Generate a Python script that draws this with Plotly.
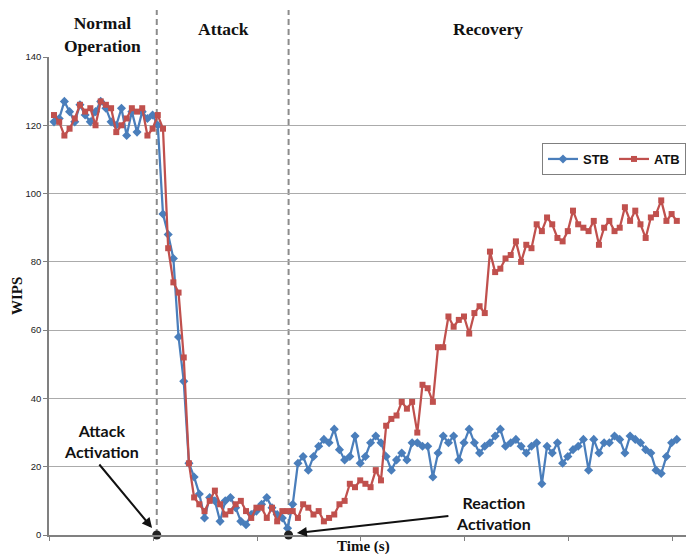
import plotly.graph_objects as go

# ---- data ----
time_idx = list(range(121))
stb = [121, 122, 127, 124, 121, 126, 123, 121, 124, 127,
       125, 121, 120, 125, 117, 124, 118, 124, 122, 123,
       120, 94, 88, 81, 58, 45, 21, 17, 12, 5,
       11, 10, 4, 10, 11, 8, 4, 3, 6, 7,
       9, 11, 8, 6, 5, 2, 9, 21, 23, 19,
       23, 26, 28, 27, 31, 25, 22, 23, 29, 21,
       23, 27, 29, 27, 23, 19, 22, 24, 22, 27,
       27, 26, 26, 17, 24, 29, 27, 29, 22, 27,
       31, 27, 24, 26, 27, 29, 31, 26, 27, 28,
       26, 24, 26, 27, 15, 26, 24, 27, 21, 23,
       25, 26, 28, 19, 28, 24, 27, 27, 29, 28,
       24, 29, 28, 27, 25, 24, 19, 18, 23, 27,
       28]
atb = [123, 121, 117, 119, 122, 126, 124, 125, 120, 127,
       126, 125, 118, 120, 122, 125, 124, 125, 117, 119,
       123, 119, 84, 74, 71, 52, 21, 11, 9, 7,
       10, 13, 9, 6, 7, 9, 10, 7, 5, 8,
       8, 5, 8, 4, 7, 7, 7, 5, 9, 8,
       6, 7, 4, 5, 6, 9, 10, 15, 14, 16,
       15, 14, 19, 16, 32, 34, 35, 39, 37, 39,
       30, 44, 43, 39, 55, 55, 64, 61, 63, 64,
       59, 65, 67, 65, 83, 77, 78, 81, 82, 86,
       80, 85, 84, 91, 89, 93, 91, 87, 86, 89,
       95, 91, 90, 89, 92, 85, 90, 92, 89, 90,
       96, 92, 95, 91, 87, 93, 94, 98, 92, 94,
       92]
series_names = ["STB", "ATB"]
y_ticks = [0, 20, 40, 60, 80, 100, 120, 140]
phase_labels = ["Normal<br>Operation", "Attack", "Recovery"]
event_x = [19.8, 45.2]          # attack activation, reaction activation (x index)
event_labels = ["Attack<br>Activation", "Reaction<br>Activation"]

W, H = 690, 554
L, R, T, B = 49, 4, 57, 19
pw, ph = W - L - R, H - T - B
px_per = 5.19
x0 = -(54 - L) / px_per
x1 = x0 + pw / px_per


def px(xp):
    return (xp - L) / pw


def py(yp):
    return (H - B - yp) / ph


BLUE = "#4A7EBB"
RED = "#C0504D"

fig = go.Figure()
fig.add_trace(go.Scatter(
    x=time_idx, y=stb, mode="lines+markers", name="<b>" + series_names[0] + "</b>",
    line=dict(color=BLUE, width=2.25),
    marker=dict(symbol="diamond", size=7, color=BLUE)))
fig.add_trace(go.Scatter(
    x=time_idx, y=atb, mode="lines+markers", name="<b>" + series_names[1] + "</b>",
    line=dict(color=RED, width=2.25),
    marker=dict(symbol="square", size=6, color=RED)))

# event dots on the axis
fig.add_trace(go.Scatter(
    x=event_x, y=[0, 0], mode="markers", showlegend=False, cliponaxis=False,
    marker=dict(size=9, color="#222222")))

shapes = []
for ex in event_x:
    shapes.append(dict(type="line", xref="x", yref="paper", x0=ex, x1=ex,
                       y0=0, y1=py(10), line=dict(color="#8c8c8c", width=2, dash="6px,4px"),
                       layer="below"))

annotations = []
serif = "Liberation Serif, Times New Roman, serif"
sans = "Lato, Open Sans, sans-serif"
# phase labels
for lab, cx, cy in zip(phase_labels, [102, 223, 488], [34, 29, 29]):
    annotations.append(dict(text="<b>" + lab + "</b>", xref="paper", yref="paper",
                            x=px(cx), y=py(cy), showarrow=False, xanchor="center",
                            yanchor="middle", font=dict(family=serif, size=17.5, color="#111")))
# axis titles
annotations.append(dict(text="<b>WIPS</b>", xref="paper", yref="paper", x=px(17), y=py(296),
                        showarrow=False, textangle=-90, xanchor="center", yanchor="middle",
                        font=dict(family=serif, size=15, color="#111")))
annotations.append(dict(text="<b>Time (s)</b>", xref="paper", yref="paper", x=px(363), y=py(546),
                        showarrow=False, xanchor="center", yanchor="middle",
                        font=dict(family=serif, size=15, color="#111")))
# event labels
annotations.append(dict(text="<b>" + event_labels[0] + "</b>", xref="paper", yref="paper",
                        x=px(101.5), y=py(441), showarrow=False, xanchor="center", yanchor="middle",
                        font=dict(family=sans, size=16, color="#111")))
annotations.append(dict(text="<b>" + event_labels[1] + "</b>", xref="paper", yref="paper",
                        x=px(493), y=py(513), showarrow=False, xanchor="center", yanchor="middle",
                        font=dict(family=sans, size=16, color="#111")))
# arrows
annotations.append(dict(text="", x=event_x[0] - (156.7 - 152) / px_per, y=(535 - 528) / 3.414,
                        xref="x", yref="y", ax=-54, ay=-65, showarrow=True,
                        arrowhead=2, arrowsize=1, arrowwidth=2, arrowcolor="#111"))
annotations.append(dict(text="", x=event_x[1] + (297 - 288.7) / px_per, y=0.6,
                        xref="x", yref="y", ax=153, ay=-17, showarrow=True,
                        arrowhead=2, arrowsize=1, arrowwidth=2, arrowcolor="#111"))

fig.update_layout(
    width=W, height=H, margin=dict(l=L, r=R, t=T, b=B, pad=0),
    paper_bgcolor="white", plot_bgcolor="white",
    shapes=shapes, annotations=annotations,
    legend=dict(orientation="h", x=1.0, xanchor="right", y=py(143), yanchor="top",
                bordercolor="#7f7f7f", borderwidth=1, bgcolor="white",
                font=dict(family="Liberation Sans, Arial, sans-serif", size=13, color="#111"),
                itemwidth=30, tracegroupgap=0),
    xaxis=dict(range=[x0, x1], showgrid=False, zeroline=False, showticklabels=False,
               showline=True, linecolor="#808080", linewidth=2,
               ticks="outside", ticklen=4, tickcolor="#808080", tick0=-0.85, dtick=20),
    yaxis=dict(range=[0, 140], tickvals=y_ticks, showgrid=True, gridcolor="#ababab",
               gridwidth=1, zeroline=False, showline=True, linecolor="#808080", linewidth=1.5,
               ticks="outside", ticklen=4, tickcolor="#808080",
               tickfont=dict(family="Liberation Sans, Arial, sans-serif", size=9.5, color="#222")),
)

fig.write_html("out.html", config={"displayModeBar": False},
               post_script="document.body.style.margin='0';document.body.style.padding='0';")
